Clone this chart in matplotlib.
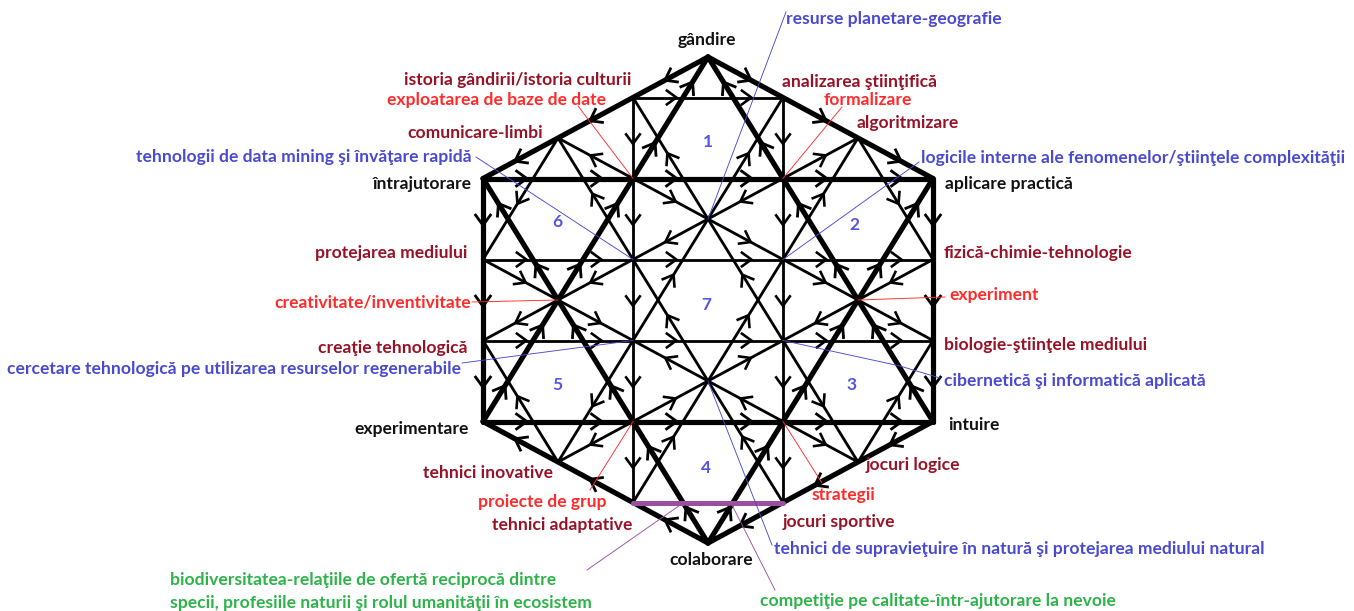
import matplotlib
matplotlib.use('Agg')
import matplotlib.pyplot as plt
import numpy as np

# ---------------- geometry of the hexagon (diagram units) ----------------
CX, CY, R, W = 708, 300, 243, 225

# node positions as fractions of half-width (x) and radius (y)
node_frac = {
    'T': (0, -1), 'B': (0, 1), 'UL': (-1, -0.5), 'UR': (1, -0.5), 'LL': (-1, 0.5), 'LR': (1, 0.5),
    'a1': (-1/3, -5/6), 'a1r': (1/3, -5/6), 'a2': (-2/3, -2/3), 'a2r': (2/3, -2/3),
    'b1': (-1/3, 5/6), 'b1r': (1/3, 5/6), 'b2': (-2/3, 2/3), 'b2r': (2/3, 2/3),
    'h1': (-1/3, -0.5), 'h1r': (1/3, -0.5), 'g1': (-1/3, 0.5), 'g1r': (1/3, 0.5),
    'S': (-2/3, 0), 'Sr': (2/3, 0),
    'L1': (-1, -1/6), 'L2': (-1, 1/6), 'R1': (1, -1/6), 'R2': (1, 1/6),
    'M1': (-1/3, -1/6), 'M2': (-1/3, 1/6), 'N1': (1/3, -1/6), 'N2': (1/3, 1/6),
    'P1': (0, -1/3), 'P4': (0, 1/3),
}

# edges: (from, to, number of chevrons); chevrons point from -> to
thick_edges = [
    ('T', 'UL', 3), ('T', 'UR', 3), ('UL', 'LL', 3), ('UR', 'LR', 3),
    ('B', 'LL', 3), ('LR', 'B', 3),
    ('LL', 'S', 2), ('S', 'h1', 2), ('h1', 'T', 2),
    ('LR', 'Sr', 2), ('Sr', 'h1r', 2), ('h1r', 'T', 2),
    ('B', 'g1', 2), ('g1', 'S', 2), ('S', 'UL', 2),
    ('B', 'g1r', 2), ('g1r', 'Sr', 2), ('Sr', 'UR', 2),
    ('UL', 'h1', 2), ('h1', 'h1r', 2), ('h1r', 'UR', 2),
    ('LL', 'g1', 2), ('g1', 'g1r', 2), ('g1r', 'LR', 2),
]
thin_edges = [
    ('a1', 'a1r', 2), ('a1', 'h1', 1), ('h1', 'M1', 1), ('M1', 'M2', 1), ('M2', 'g1', 1), ('g1', 'b1', 1),
    ('a1r', 'h1r', 1), ('h1r', 'N1', 1), ('N1', 'N2', 1), ('N2', 'g1r', 1), ('g1r', 'b1r', 1),
    ('L1', 'M1', 2), ('M1', 'N1', 2), ('N1', 'R1', 2),
    ('L2', 'M2', 2), ('M2', 'N2', 2), ('N2', 'R2', 2),
    ('N2', 'P1', 1), ('P1', 'a1', 1), ('M2', 'P1', 1), ('P1', 'a1r', 1),
    ('h1', 'P1', 1), ('P1', 'N1', 1), ('h1r', 'P1', 1), ('P1', 'M1', 1),
    ('b1', 'P4', 1), ('P4', 'N1', 1), ('b1r', 'P4', 1), ('P4', 'M1', 1),
    ('g1', 'P4', 1), ('P4', 'N2', 1), ('g1r', 'P4', 1), ('P4', 'M2', 1),
    ('h1', 'a2', 1), ('a2', 'L1', 1), ('M1', 'a2', 1), ('L1', 'S', 1), ('M1', 'S', 1),
    ('S', 'L2', 1), ('S', 'M2', 1), ('b2', 'L2', 1), ('M2', 'b2', 1), ('g1', 'b2', 1),
    ('h1r', 'a2r', 1), ('a2r', 'R1', 1), ('N1', 'a2r', 1), ('R1', 'Sr', 1), ('N1', 'Sr', 1),
    ('Sr', 'R2', 1), ('Sr', 'N2', 1), ('b2r', 'R2', 1), ('N2', 'b2r', 1), ('g1r', 'b2r', 1),
]
purple_edges = [('b1', 'b1r', 0)]

region_labels = ['1', '2', '3', '4', '5', '6', '7']
region_pos = [(0, -0.65), (0.65, -0.31), (0.64, 0.35), (-0.01, 0.69), (-0.67, 0.35), (-0.67, -0.32), (-0.01, 0.02)]

DARKRED, RED, BLUE, GREEN, BLACK = '#961226', '#ff2b2b', '#4a4ad0', '#2eb34a', '#111111'
PURPLE = '#9b4f9f'

labels = [
    ("gândire", 707, 40, 'center', BLACK),
    ("resurse planetare-geografie", 786, 19, 'left', BLUE),
    ("istoria gândirii/istoria culturii", 631, 80, 'right', DARKRED),
    ("exploatarea de baze de date", 606, 100, 'right', RED),
    ("analizarea ştiinţifică", 782, 82, 'left', DARKRED),
    ("formalizare", 824, 100, 'left', RED),
    ("algoritmizare", 857, 123, 'left', DARKRED),
    ("comunicare-limbi", 543, 133, 'right', DARKRED),
    ("tehnologii de data mining şi învăţare rapidă", 472, 157, 'right', BLUE),
    ("logicile interne ale fenomenelor/ştiinţele complexităţii", 921, 158, 'left', BLUE),
    ("întrajutorare", 472, 184, 'right', BLACK),
    ("aplicare practică", 945, 184, 'left', BLACK),
    ("protejarea mediului", 467, 253, 'right', DARKRED),
    ("fizică-chimie-tehnologie", 944, 253, 'left', DARKRED),
    ("creativitate/inventivitate", 471, 302, 'right', RED),
    ("experiment", 949, 295, 'left', RED),
    ("creaţie tehnologică", 468, 348, 'right', DARKRED),
    ("biologie-ştiinţele mediului", 944, 345, 'left', DARKRED),
    ("cercetare tehnologică pe utilizarea resurselor regenerabile", 461, 369, 'right', BLUE),
    ("cibernetică şi informatică aplicată", 944, 381, 'left', BLUE),
    ("experimentare", 469, 429, 'right', BLACK),
    ("intuire", 948, 425, 'left', BLACK),
    ("tehnici inovative", 553, 473, 'right', DARKRED),
    ("jocuri logice", 866, 465, 'left', DARKRED),
    ("proiecte de grup", 607, 502, 'right', RED),
    ("strategii", 812, 495, 'left', RED),
    ("tehnici adaptative", 632, 525, 'right', DARKRED),
    ("jocuri sportive", 783, 522, 'left', DARKRED),
    ("colaborare", 711, 560, 'center', BLACK),
    ("tehnici de supravieţuire în natură şi protejarea mediului natural", 774, 549, 'left', BLUE),
    ("biodiversitatea-relaţiile de ofertă reciprocă dintre", 170, 580, 'left', GREEN),
    ("specii, profesiile naturii şi rolul umanităţii în ecosistem", 170, 603, 'left', GREEN),
    ("competiţie pe calitate-într-ajutorare la nevoie", 760, 601, 'left', GREEN),
]

# leader lines: colour, list of points (label ends / nodes)
leaders = [
    (BLUE, [(786, 12), 'P1']),
    (RED, [(578, 106), 'h1']),
    (RED, [(842, 107), 'h1r']),
    (BLUE, [(476, 157), 'M1']),
    (BLUE, [(919, 162), 'N1']),
    (RED, [(472, 302), 'S']),
    (RED, ['Sr', (945, 297)]),
    (BLUE, [(462, 363), 'M2']),
    (BLUE, ['N2', (900, 366), (940, 378)]),
    (RED, [(590, 490), 'g1']),
    (RED, ['g1r', (822, 483)]),
    (BLUE, ['P4', (772, 545)]),
    (PURPLE, [(683, 503), (587, 570)]),
    (PURPLE, [(731, 503), (775, 590)]),
]

# ---------------- drawing ----------------
fig = plt.figure(figsize=(13.54, 6.11), dpi=100)
ax = fig.add_axes([0, 0, 1, 1])
ax.set_xlim(0, 1354)
ax.set_ylim(611, 0)
ax.axis('off')

def pos(n):
    if isinstance(n, str):
        fx, fy = node_frac[n]
        return np.array([CX + fx * W, CY + fy * R])
    return np.array(n, dtype=float)

PX = 0.72  # points per pixel

def rot(v, a):
    c, s = np.cos(a), np.sin(a)
    return np.array([c * v[0] - s * v[1], s * v[0] + c * v[1]])

def chevron(p, u, size=13, lw=2.6, color='black'):
    ang = np.deg2rad(36)
    apex = p + u * size * 0.45
    e1 = apex - rot(u, ang) * size
    e2 = apex - rot(u, -ang) * size
    ax.plot([e1[0], apex[0], e2[0]], [e1[1], apex[1], e2[1]], color=color,
            lw=lw * PX, solid_capstyle='butt', solid_joinstyle='miter', zorder=4)

def draw_edges(edges, lw, color, z, csize, clw):
    for a, b, n in edges:
        pa, pb = pos(a), pos(b)
        ax.plot([pa[0], pb[0]], [pa[1], pb[1]], color=color, lw=lw * PX,
                solid_capstyle='round', zorder=z)
        d = pb - pa
        u = d / np.hypot(*d)
        for i in range(n):
            t = (i + 0.5) / n
            chevron(pa + d * t, u, size=csize, lw=clw)

draw_edges(thin_edges, 2.8, 'black', 2, 13, 2.6)
draw_edges(thick_edges, 5.2, 'black', 3, 14, 2.8)
draw_edges(purple_edges, 5.0, PURPLE, 3.5, 13, 2.6)

for col, pts in leaders:
    arr = np.array([pos(p) for p in pts])
    ax.plot(arr[:, 0], arr[:, 1], color=col, lw=0.9 * PX, zorder=5)

for lab, (fx, fy) in zip(region_labels, region_pos):
    ax.text(CX + fx * W, CY + fy * R, lab, color='#5555dd', fontsize=12.5,
            fontweight='bold', family=['Lato', 'DejaVu Sans'], ha='center', va='center', zorder=6)

# font size fitted so that the longest blue label spans its measured width
ref = ax.text(0, 0, labels[29][0], fontsize=10, fontweight='bold', family=['Lato', 'DejaVu Sans'])
fig.canvas.draw()
wpx = ref.get_window_extent(fig.canvas.get_renderer()).width
ref.remove()
FS = 10 * 489 / wpx

for txt, x, y, ha, col in labels:
    ax.text(x, y, txt, color=col, fontsize=FS, fontweight='bold', family=['Lato', 'DejaVu Sans'],
            ha=ha, va='center', zorder=6)

fig.savefig('out.png', dpi=100, facecolor='white')
